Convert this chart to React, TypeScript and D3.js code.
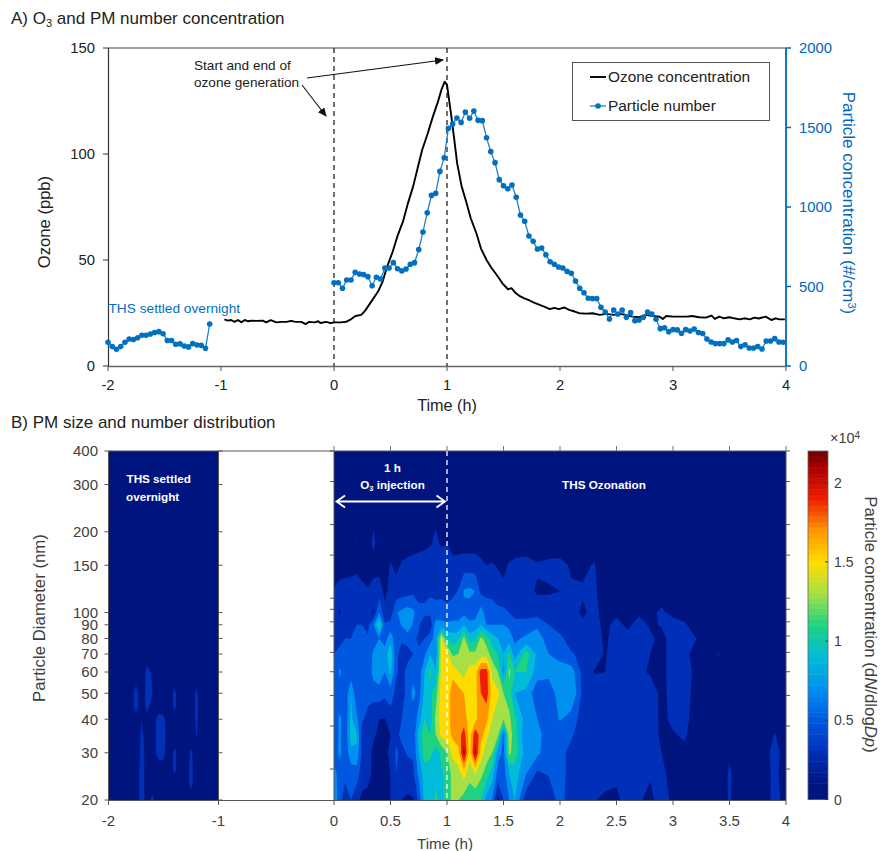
import React from "react";
import * as d3 from "d3";

// ---------- Panel A data ----------
const preParticleStart = -2;
const particleStep = 0.0375;
const preParticles = [149,122,105,122,149,170,166,178,193,193,201,210,216,203,160,160,137,139,126,120,141,132,130,111,264];
const mainParticles = [524,524,489,541,541,589,579,575,562,505,558,547,616,616,650,612,598,610,640,650,732,843,964,1073,1086,1224,1310,
1495,1522,1560,1532,1597,1558,1604,1545,1543,1436,1348,1279,1172,1134,1115,1138,1061,950,910,818,784,736,742,700,656,640,623,616,595,583,535,489,461,426,424,424,369,340,296,352,327,352,306,336,285,289,306,340,327,294,235,241,216,229,227,206,229,220,233,210,204,170,151,141,141,141,164,151,160,122,134,113,113,122,107,157,157,172,151,149];
const ozoneTimes = [-0.97,-0.94,-0.91,-0.88,-0.85,-0.82,-0.79,-0.76,-0.73,-0.69,-0.63,-0.60,-0.56,-0.51,-0.47,-0.42,-0.38,-0.34,-0.29,-0.25,-0.22,-0.17,-0.14,-0.12,-0.07,-0.03,0,0.06,0.11,0.15,0.19,0.24,0.27,0.30,0.34,0.39,0.43,0.47,0.52,0.56,0.61,0.65,0.70,0.74,0.78,0.83,0.87,0.92,0.95,0.98,
1.00,1.035,1.065,1.09,1.13,1.17,1.21,1.26,1.30,1.35,1.39,1.45,1.49,1.54,1.57,1.61,1.64,1.68,1.73,1.77,1.82,1.86,1.91,1.95,1.99,2.04,2.08,2.13,2.17,2.23,2.29,2.35,2.41,2.47,2.53,2.58,2.64,2.70,2.76,2.82,2.88,2.91,2.94,3.00,3.06,3.12,3.17,3.23,3.29,3.34,3.37,3.41,3.45,3.50,3.54,3.59,3.63,3.68,3.72,3.76,3.82,3.87,3.91,3.94,3.99];
const ozoneValues = [22.0,21.4,21.7,20.8,21.7,20.6,21.7,21.1,21.4,21.3,21.4,20.6,21.6,20.6,20.8,20.8,21.3,20.8,20.8,19.8,20.8,20.6,21.1,20.3,20.8,20.2,20.6,20.6,20.9,22.0,23.6,24.1,25.7,28.0,31.2,35.1,39.8,46.9,54.0,61.0,68.1,76.0,84.6,93.3,101.9,109.8,116.8,124.7,130.2,134.1,
132.6,119.2,106.6,95.6,84.6,77.5,69.7,62.6,55.5,50.0,46.6,42.2,39.0,36.2,36.7,34.3,33.1,32.0,30.9,29.9,28.8,28.0,26.8,27.4,26.8,27.6,26.5,25.7,24.9,24.7,24.9,24.1,24.6,24.1,24.6,24.1,23.3,23.0,24.1,23.6,23.3,22.2,23.6,23.3,23.3,23.3,23.6,23.0,22.8,23.8,22.2,23.3,22.5,23.0,22.5,22.0,22.5,22.0,22.8,22.4,23.3,21.7,22.5,22.0,22.0];
const xTicksA = [-2,-1,0,1,2,3,4];
const ozoneTicks = [0,50,100,150];
const particleTicks = [0,500,1000,1500,2000];

// ---------- Panel B data (values in thousands of dN/dlogDp) ----------
const diameters = [20,25,30,35,40,50,60,70,80,90,100,120,150,180,400];
const mainTimes = [0,.05,.1,.15,.2,.25,.3,.35,.4,.45,.5,.55,.6,.65,.7,.75,.8,.85,.9,.95,1,1.05,1.1,1.15,1.2,1.25,1.3,1.35,1.4,1.45,1.5,1.55,1.6,
1.7,1.8,1.9,2,2.1,2.2,2.3,2.4,2.5,2.6,2.7,2.8,2.9,3,3.1,3.2,3.3,3.4,3.5,3.6,3.7,3.8,3.9,4];
const mainColumns = [
[8,7,4.5,4.2,4.3,4.3,4,4,3.5,3,2.5,2.2,1,.5,0],
[4.5,5,6.5,6.5,6.5,4.6,6.5,4.5,3.5,3,1.8,2.8,1,.4,0],
[3,4.5,4.5,4.6,4.6,4.5,4.5,4.5,4,3.5,3,3,1,.5,0],
[4,4.7,7.5,9,8.5,8,4.8,4.5,4,3,2.5,3,1.2,.5,0],
[2.5,5,7.5,8.5,6.5,4.5,4.2,4.6,4.4,4,3,3,1.5,2.1,0],
[1.5,3,3.5,3,4.2,4.2,4.4,4.4,4.3,4,3,2.6,1,.5,0],
[1.5,2.5,2.5,2.2,3.5,4.5,4.2,4,4.2,3.5,2.1,2.2,1,1.2,0],
[1.5,1.6,1.7,2.2,3,4.5,7,6.5,4.6,6,1.9,2.8,1.2,2.4,0],
[1.2,1.4,1.5,1.7,2,5,7.5,6.8,6,10.5,6,3,1.2,1,0],
[1.2,1.3,1.4,1.5,1.9,4.5,6,7,5,4.3,2.5,1.5,1,.8,0],
[2,2,2.5,2,3,5,8.5,9.5,7.5,4.5,3,2.7,2.2,.8,0],
[3,4,4.3,3.5,3.2,3.5,4.2,4.3,4.2,5,5.8,2.8,1.5,.8,0],
[2,3.5,3.5,4.5,4,3.5,3.5,3.5,4.2,6.2,6.5,3,2.2,1.2,0],
[1.7,3,4.2,6,4.3,4.4,4.5,3.5,4.5,8,7,3.2,2.6,1,0],
[1.8,3.5,4.3,4.4,4.4,6.8,5,4,4.3,5.8,6.5,3.5,3,1,0],
[4.5,6.5,8,9,7,5,4.6,4.2,3.8,4.2,4.6,3.3,3.2,1.2,0],
[8.5,9,11,11,10,8.5,8,5.5,4,3,4.4,3.5,3.4,1.4,0],
[8.5,9,10.5,10,9,9.5,10.5,8,5,2.5,4.5,3.8,3.6,1.8,0],
[10.5,9.5,9,12,12.5,11,8.5,6.5,7,7,4.6,3.6,3.4,2.4,0],
[9,9.5,10.5,14.5,15,15,14.5,14.5,14.2,6.5,5,3.4,3,1.8,0],
[11,11,12,15,15,15,15,14.5,10,6.5,4.5,3.4,2.5,2,0],
[12.5,12.5,14.5,16.5,17,17,15.5,11.5,9,6.5,5,3.5,2.5,1.4,0],
[12,13,15.5,17,17.5,17,14,12,9.5,6.5,5,4.1,2.8,1.2,0],
[11,15,20.8,19,17,16,13.2,12.5,12.5,8,5.5,6.2,3,1.2,0],
[11,12.5,15,15,15,15,15,12.5,9,6.5,5,6.5,3,1.2,0],
[10.5,14,20.8,19.5,15.5,15.2,15,12.5,9.5,6.8,5,6,3,1.2,0],
[10,12.5,15,17,17,18,19,13,12.5,8,7,3.5,2.5,1,0],
[7,11,13,14.5,16.5,19,19,13,11,6,5,3.5,2,1,0],
[6,9,12,13,14,15,13.5,11,9,6,4.5,3.7,2.2,.8,0],
[1.5,5,7,12.5,12.5,14.5,12,10,8,6,4.5,3,1.8,.8,0],
[4,5,5.5,5.5,12,12,7,8,7,6,4.5,2.5,1.5,.8,0],
[6,8,12.5,13,12.5,11,12.5,10.5,7,5.5,4,3,2.2,.8,0],
[8,9,11,11,10.5,8,10,7,5.5,4.5,3.5,3,2.5,1,0],
[2.8,6,7,6,7,7.5,10,11,6.5,4.5,3.5,2.5,2.8,.9,0],
[2,3.5,6.5,7,6,4.5,7,7.5,6.5,5.8,3,1.8,2.2,.8,0],
[2.2,4.2,4.6,4.5,4.5,5,6.5,6,5.5,4,3,1.8,2.5,.8,0],
[5,5,4.5,4,6.2,6.8,8,4.5,4.5,3,3,2,2.5,1,0],
[2.5,3,3.5,4.2,5,8,7,4.2,3,3,3,2.2,1.8,.9,0],
[2,3,3.3,3.2,3.2,3.5,3.4,3.5,3.5,2.5,1.6,2.3,1.4,.6,0],
[2.2,3,3.3,3.5,3.8,2.8,1.9,3.2,3,2.8,2.6,2.4,2.2,.6,0],
[1.5,3,3,2.6,2.4,2.2,2,1.8,1.6,1.4,1.2,.9,.6,.4,0],
[1.5,2.5,3,3,3,2.2,2.5,3.2,3,2.7,1.5,.8,.4,.3,0],
[3,2.7,3.3,2.8,2.4,2.4,3,3,2.8,1.5,1.2,.8,.4,.2,0],
[2.2,3.5,3.5,3.6,3,3,2.5,2.7,3,3,1.5,.8,.3,.2,0],
[1.5,2.2,3,3.2,3.5,3.2,1.7,2,2.5,1.6,1.3,.8,.3,.2,0],
[3,2.5,2,1.5,1.4,1.4,1.3,1.3,1.2,2.2,2.5,.5,.2,.1,0],
[1.5,1.2,1.3,1.8,2.5,2.8,3,3,3.2,3.5,1,.5,.2,.1,0],
[1,1,1.5,2.3,2.6,2.6,2.8,2.4,2.6,2.3,1,.4,.2,.1,0],
[1,1,1,1,1.2,1.5,1.6,1.5,2.1,1,.6,.4,.2,.1,0],
[1.2,.9,.9,.9,1,1,1.1,1,.9,.7,.5,.3,.2,.1,0],
[.8,1,1.5,1,1,1,1,2.1,1,1,.5,.3,.2,.1,0],
[2.2,2.2,1.8,1,.9,1,1,1.4,1,.7,.5,.4,.3,.3,0],
[.7,.9,.9,.9,.9,.9,.8,.8,.9,2.1,.5,.3,.2,.1,0],
[.8,1,.9,.9,.9,.9,.8,.8,.7,.6,.5,.3,.2,.1,0],
[1.5,1.1,1,.9,.8,.7,.7,.7,.6,.5,.4,.2,.1,.1,0],
[2.3,2.5,2.8,2.1,1,.8,.7,.6,.5,.5,.4,.2,.1,.1,0],
[1.7,1,1,.9,.8,.7,.7,.7,.5,.5,.4,.2,.1,.1,0],
];
const preDiameters = [20,23,26,30,35,40,45,50,60,70,400];
const preTimes = [-2,-1.95,-1.9,-1.85,-1.8,-1.75,-1.7,-1.65,-1.6,-1.55,-1.5,-1.45,-1.4,-1.35,-1.3,-1.25,-1.2,-1.15,-1.1,-1.05,-1];
const preColumns = [
[1,1,1,1,1,1,1,1,.8,.6,0],[1,1,1,1,1,1,1,1,.8,.6,0],[1,1,1,1,1,1,1,1,.8,.6,0],[1,1,1,1,1,1,1,1,.8,.6,0],[1,1,1,1,1,1,1,1,.8,.6,0],
[1,1,1,1,1,1.4,2.6,2.6,1.2,.6,0],
[2.6,2.6,2.6,2.4,2.2,2,1,1,.9,.6,0],
[1.4,1.4,1.4,1.6,1.6,1.5,2.5,2.6,2.5,1,0],
[2.4,1,1,1,1,1,1.5,2,1.8,.8,0],
[1,1,1.2,2.5,2.6,2.5,1.2,1,.8,.6,0],
[1,1,1.5,2.4,2.6,2.4,1,1,.8,.6,0],
[1,1,1,1,1,1,1,1,.8,.6,0],
[1,1,2.4,2.4,1,1.4,2.4,2.4,1,.6,0],
[1,1,1,1,1,1,1,1,.8,.6,0],[1,1,1,1,1,1,1,1,.8,.6,0],
[1,2.5,2.5,2.3,1,1,1,1,.8,.6,0],
[1,1,1,1,2.1,2.3,2.4,2.3,1,.6,0],
[1,1,1,1,1,1,1,1,.8,.6,0],[1,1,1,1,1,1,1,1,.8,.6,0],[1,1,1,1,1,1,1,1,.8,.6,0],[1,1,1,1,1,1,1,1,.8,.6,0],
];
const levels = [2,4,6,8,10,12,14,16,18,20];
const colourStops = [0,1,3,5,7,9,11,13,15,17,19,21,22];
const colourValues = ["#001480","#001480","#0030b8","#0058e0","#0090f0","#00bcd8","#1ed282","#a5e146","#ffdc00","#ff9600","#f01e00","#aa0000","#6e0000"];
const diameterTicks = [20,30,40,50,60,70,80,90,100,150,200,300,400];
const xTicksB = [-2,-1,0,.5,1,1.5,2,2.5,3,3.5,4];
const xTopTicks = [0,.5,1,1.5,2,2.5,3,3.5,4];
const colourbarTicks = [0,5,10,15,20];

const SANS = "'Liberation Sans', Arial, sans-serif";
const BLUE = "#0066c4";
const GREY = "#404040";

const xA = d3.scaleLinear().domain([-2, 4]).range([108, 786]);
const yOzone = d3.scaleLinear().domain([0, 150]).range([366, 48]);
const yPart = d3.scaleLinear().domain([0, 2000]).range([366, 48]);
const xB = d3.scaleLinear().domain([-2, -1, 0, 4]).range([108.5, 218.5, 334, 786]);
const yB = d3.scaleLog().domain([20, 400]).range([800, 451]);
// the tick marks of the right-hand map sit on a slightly different log frame
const yB2 = d3.scaleLog().domain([20, 400]).range([769, 451]);
const colour = d3.scaleLinear<string>().domain(colourStops).range(colourValues);
const cbY = d3.scaleLinear().domain([0, 22]).range([799.5, 451]);

function contourPaths(times: number[], diam: number[], cols: number[][]) {
  const n = times.length, m = diam.length;
  const grid: number[] = [];
  for (let j = 0; j < m; j++) for (let i = 0; i < n; i++) grid.push(cols[i][j]);
  const tScale = d3.scaleLinear().domain(d3.range(n)).range(times).clamp(true);
  const dScale = d3.scaleLinear().domain(d3.range(m)).range(diam.map((d) => Math.log10(d))).clamp(true);
  const gen = d3.contours().size([n, m]).thresholds(levels);
  return gen(grid).map((c) => {
    const d = c.coordinates
      .map((poly) =>
        poly
          .map((ring) =>
            "M" + ring.map(([gx, gy]) => `${xB(tScale(gx - 0.5)).toFixed(2)},${yB(Math.pow(10, dScale(gy - 0.5))).toFixed(2)}`).join("L") + "Z"
          )
          .join("")
      )
      .join("");
    return { d, fill: colour(c.value + 1) };
  });
}

const ozoneLine = d3.line<number>().x((_, i) => xA(ozoneTimes[i])).y((v) => yOzone(v));
const preLine = d3.line<number>().x((_, i) => xA(preParticleStart + i * particleStep)).y((v) => yPart(v));
const mainLine = d3.line<number>().x((_, i) => xA(i * particleStep)).y((v) => yPart(v));

export default function App() {
  const mainPaths = contourPaths(mainTimes, diameters, mainColumns);
  const prePaths = contourPaths(preTimes, preDiameters, preColumns);
  const bands = d3.range(0, 22, 22 / 64);
  const [x0, x1, xm1, x4] = [xB(0), xB(1), xB(-1), xB(4)];
  const tx = { fontFamily: SANS } as const;
  return (
    <svg width={881} height={851} style={{ position: "absolute", left: 0, top: 0, background: "#fff" }}>
      <defs>
        <marker id="ah" markerWidth={9} markerHeight={8} refX={8} refY={4} orient="auto" markerUnits="userSpaceOnUse">
          <path d="M0,0L9,4L0,8Z" fill="#111" />
        </marker>
      </defs>

      {/* Panel A */}
      <text x={11} y={24} fontSize={17} fill="#222" {...tx}>A) O<tspan fontSize={11} dy={3}>3</tspan><tspan dy={-3}> and PM number concentration</tspan></text>
      <path d={`M108,48H786`} stroke="#444" strokeWidth={1.2} fill="none" />
      <path d={`M108,366.5H786`} stroke="#666" strokeWidth={1.4} fill="none" />
      <path d={`M108.5,48V366`} stroke="#333" strokeWidth={1.2} fill="none" />
      <path d={`M786,48V366`} stroke={BLUE} strokeWidth={1.8} fill="none" />
      {xTicksA.map((t) => (
        <g key={t}>
          <line x1={xA(t)} x2={xA(t)} y1={366} y2={371} stroke="#555" />
          <text x={xA(t)} y={390} textAnchor="middle" fontSize={14.8} fill="#222" {...tx}>{t}</text>
        </g>
      ))}
      {ozoneTicks.map((t) => (
        <g key={t}>
          <line x1={103} x2={108} y1={yOzone(t)} y2={yOzone(t)} stroke="#333" />
          <text x={95} y={yOzone(t) + 5.2} textAnchor="end" fontSize={14.8} fill="#222" {...tx}>{t}</text>
        </g>
      ))}
      {particleTicks.map((t) => (
        <g key={t}>
          <line x1={786} x2={791} y1={yPart(t)} y2={yPart(t)} stroke={BLUE} strokeWidth={1.5} />
          <text x={799} y={yPart(t) + 5.2} fontSize={14.8} fill={BLUE} {...tx}>{t}</text>
        </g>
      ))}
      <text transform="translate(50,222) rotate(-90)" textAnchor="middle" fontSize={16.6} fill="#222" {...tx}>Ozone (ppb)</text>
      <text transform="translate(843,203) rotate(90)" textAnchor="middle" fontSize={17} fill={BLUE} {...tx}>Particle concentration (#/cm<tspan fontSize={11} dy={-5}>3</tspan><tspan dy={5}>)</tspan></text>
      <text x={447} y={411} textAnchor="middle" fontSize={16.2} fill="#222" {...tx}>Time (h)</text>

      {[0, 1].map((t) => (
        <line key={t} x1={xA(t)} x2={xA(t)} y1={48} y2={366} stroke="#111" strokeWidth={1.2} strokeDasharray="5 4" />
      ))}
      <path d={ozoneLine(ozoneValues) || ""} fill="none" stroke="#000" strokeWidth={1.9} strokeLinejoin="round" />
      <path d={preLine(preParticles) || ""} fill="none" stroke="#2080cc" strokeWidth={1.3} />
      <path d={mainLine(mainParticles) || ""} fill="none" stroke="#2080cc" strokeWidth={1.3} />
      {preParticles.map((v, i) => (
        <circle key={i} cx={xA(preParticleStart + i * particleStep)} cy={yPart(v)} r={2.8} fill="#0070c0" />
      ))}
      {mainParticles.map((v, i) => (
        <circle key={i} cx={xA(i * particleStep)} cy={yPart(v)} r={2.8} fill="#0070c0" />
      ))}
      <text x={108.5} y={313} fontSize={13.7} fill="#0070c0" {...tx}>THS settled overnight</text>
      <text x={194} y={70} fontSize={13.6} fill="#222" {...tx}>Start and end of</text>
      <text x={194} y={86.5} fontSize={13.6} fill="#222" {...tx}>ozone generation</text>
      <line x1={307} x2={443} y1={78} y2={60} stroke="#111" strokeWidth={1.1} markerEnd="url(#ah)" />
      <line x1={302} x2={326} y1={85} y2={116} stroke="#111" strokeWidth={1.1} markerEnd="url(#ah)" />

      <rect x={572.5} y={62.5} width={197} height={58} fill="#fff" stroke="#555" strokeWidth={1} />
      <line x1={590} x2={606} y1={77} y2={77} stroke="#000" strokeWidth={1.9} />
      <text x={608} y={82} fontSize={15.4} fill="#222" {...tx}>Ozone concentration</text>
      <line x1={590} x2={606} y1={106} y2={106} stroke="#2080cc" strokeWidth={1.3} />
      <circle cx={598} cy={106} r={2.8} fill="#0070c0" />
      <text x={608} y={111} fontSize={15.4} fill="#222" {...tx}>Particle number</text>

      {/* Panel B */}
      <text x={11} y={428} fontSize={17} fill="#222" {...tx}>B) PM size and number distribution</text>
      <rect x={xB(-2)} y={451} width={xm1 - xB(-2)} height={349} fill={colour(1)} />
      {prePaths.map((p, i) => <path key={i} d={p.d} fill={p.fill} />)}
      <rect x={x0} y={451} width={x4 - x0} height={349} fill={colour(1)} />
      {mainPaths.map((p, i) => <path key={i} d={p.d} fill={p.fill} />)}

      <path d={`M${xB(-2)},451H${x4}M${xB(-2)},800.5H${x4}M${xB(-2)},451V800M${xm1},451V800M${x0},451V800M${x4},451V800`} stroke="#555" strokeWidth={1} fill="none" />
      {diameterTicks.map((d) => (
        <g key={d}>
          <line x1={xB(-2) - 4} x2={xB(-2)} y1={yB(d)} y2={yB(d)} stroke="#555" />
          <line x1={xm1} x2={xm1 + 4} y1={yB(d)} y2={yB(d)} stroke="#555" />
          <line x1={x0 - 4} x2={x0} y1={yB2(d)} y2={yB2(d)} stroke="#555" />
          <line x1={x4} x2={x4 + 4} y1={yB2(d)} y2={yB2(d)} stroke="#555" />
          <text x={98} y={yB(d) + 5.4} textAnchor="end" fontSize={15} fill={GREY} {...tx}>{d}</text>
        </g>
      ))}
      {xTicksB.map((t) => (
        <g key={t}>
          <line x1={xB(t)} x2={xB(t)} y1={800} y2={805} stroke="#555" />
          <text x={xB(t)} y={825.5} textAnchor="middle" fontSize={15} fill={GREY} {...tx}>{t}</text>
        </g>
      ))}
      {xTopTicks.map((t) => (
        <line key={t} x1={xB(t)} x2={xB(t)} y1={446} y2={451} stroke="#777" />
      ))}
      <text transform="translate(45,618) rotate(-90)" textAnchor="middle" fontSize={16.8} fill={GREY} {...tx}>Particle Diameter (nm)</text>
      <text x={445} y={849} textAnchor="middle" fontSize={15.2} fill={GREY} {...tx}>Time (h)</text>

      <line x1={x1} x2={x1} y1={451} y2={800} stroke="#fff" strokeWidth={1.3} strokeDasharray="5 4" />
      <path d={`M${x0 + 2.5},501.5H${x1 - 2}M${x0 + 11},495.5L${x0 + 2.5},501.5L${x0 + 11},507.5M${x1 - 10.5},495.5L${x1 - 2},501.5L${x1 - 10.5},507.5`} stroke="#fff" strokeWidth={1.8} fill="none" />
      <g fontFamily={SANS} fontWeight="bold" fontSize={11.7} fill="#fff">
        <text x={392.5} y={472} textAnchor="middle">1 h</text>
        <text x={392.5} y={489} textAnchor="middle">O<tspan fontSize={7.5} dy={2}>3</tspan><tspan dy={-2}> injection</tspan></text>
        <text x={604} y={489} textAnchor="middle">THS Ozonation</text>
        <text x={126.5} y={483}>THS settled</text>
        <text x={126} y={500.5}>overnight</text>
      </g>

      {/* Colour bar */}
      {bands.map((b) => (
        <rect key={b} x={808} y={cbY(b + 22 / 64)} width={20} height={cbY(b) - cbY(b + 22 / 64) + 0.5} fill={colour(b + 11 / 64)} />
      ))}
      <rect x={808} y={451} width={20} height={348.5} fill="none" stroke="#666" strokeWidth={0.8} />
      {colourbarTicks.map((t) => (
        <g key={t}>
          <line x1={825} x2={828} y1={cbY(t)} y2={cbY(t)} stroke="#333" />
          <text x={834} y={cbY(t) + 5} fontSize={14} fill={GREY} {...tx}>{t === 0 ? "0" : String(t / 10)}</text>
        </g>
      ))}
      <text x={830} y={443} fontSize={14.5} fill={GREY} {...tx}>×10<tspan fontSize={10} dy={-4}>4</tspan></text>
      <text transform="translate(865,624.5) rotate(90)" textAnchor="middle" fontSize={16.8} fill={GREY} {...tx}>Particle concentration (d<tspan fontStyle="italic">N</tspan>/dlog<tspan fontStyle="italic">Dp</tspan>)</text>
    </svg>
  );
}
